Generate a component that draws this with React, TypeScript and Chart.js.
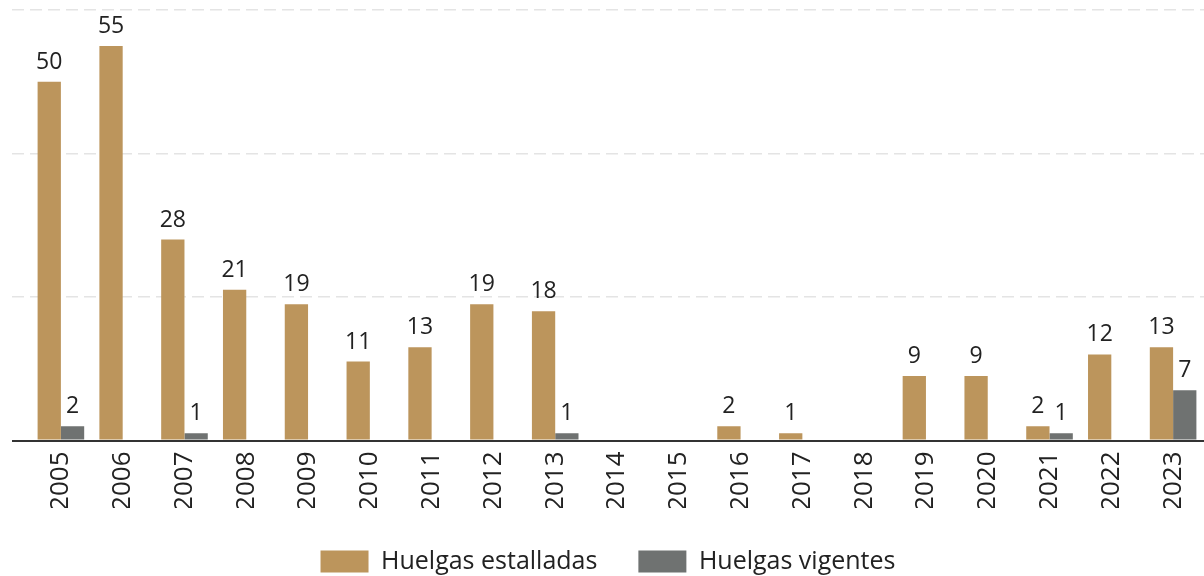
import React, { useEffect, useRef } from "react";
import { Chart, registerables } from "chart.js";

Chart.register(...registerables);

const years = [
  "2005", "2006", "2007", "2008", "2009", "2010", "2011", "2012", "2013", "2014",
  "2015", "2016", "2017", "2018", "2019", "2020", "2021", "2022", "2023",
];
const estalladas = [50, 55, 28, 21, 19, 11, 13, 19, 18, 0, 0, 2, 1, 0, 9, 9, 2, 12, 13];
const vigentes = [2, 0, 1, 0, 0, 0, 0, 0, 1, 0, 0, 0, 0, 0, 0, 0, 1, 0, 7];
const seriesNames = ["Huelgas estalladas", "Huelgas vigentes"];
const seriesColors = ["#BC955C", "#6F7271"];
const yMin = 0;
const yMax = 60;
const yStep = 20;

const FONT = "'Open Sans', 'Noto Sans', sans-serif";
const CANVAS_W = 1204;
const CANVAS_H = 584;
const LEGEND_FONT = 25;
const LEGEND_PAD = 41;
const LEGEND_H = LEGEND_FONT + LEGEND_PAD + 10;
const CHART_BOTTOM = 440.5;
const TOP_PAD = 10;

const valueLabels = {
  id: "valueLabels",
  afterDatasetsDraw(chart: any) {
    const ctx = chart.ctx;
    ctx.save();
    ctx.font = `23px ${FONT}`;
    ctx.fillStyle = "#222222";
    ctx.textAlign = "center";
    ctx.textBaseline = "alphabetic";
    chart.data.datasets.forEach((ds: any, i: number) => {
      const meta = chart.getDatasetMeta(i);
      meta.data.forEach((el: any, j: number) => {
        const v = ds.data[j];
        if (!v) return;
        ctx.fillText(String(v), el.x, el.y - 13);
      });
    });
    ctx.restore();
  },
};

const isZero = (c: any) => c && c.tick && c.tick.value === 0;

export default function App() {
  const ref = useRef<HTMLCanvasElement | null>(null);

  useEffect(() => {
    if (!ref.current) return;
    Chart.defaults.font.family = FONT;
    const chart = new Chart(ref.current, {
      type: "bar",
      data: {
        labels: years,
        datasets: [
          {
            label: seriesNames[0],
            data: estalladas,
            backgroundColor: seriesColors[0],
            categoryPercentage: 0.754,
            barPercentage: 1,
          },
          {
            label: seriesNames[1],
            data: vigentes,
            backgroundColor: seriesColors[1],
            categoryPercentage: 0.754,
            barPercentage: 1,
          },
        ],
      },
      options: {
        responsive: false,
        animation: false,
        devicePixelRatio: 1,
        layout: { padding: { top: TOP_PAD, left: 12, right: 0, bottom: 0 } },
        plugins: {
          tooltip: { enabled: false },
          legend: {
            position: "bottom",
            labels: {
              boxWidth: 48,
              boxHeight: 22,
              padding: LEGEND_PAD,
              color: "#222222",
              font: { size: LEGEND_FONT, family: FONT },
            },
          },
        },
        scales: {
          x: {
            grid: { display: false, drawTicks: false },
            border: { display: false },
            ticks: {
              autoSkip: false,
              minRotation: 90,
              maxRotation: 90,
              padding: 11,
              color: "#222222",
              font: { size: 26, family: FONT },
            },
            afterFit: (s: any) => {
              s.height = CANVAS_H - LEGEND_H - CHART_BOTTOM;
              s.paddingLeft = 0;
              s.paddingRight = 0;
            },
          },
          y: {
            min: yMin,
            max: yMax,
            ticks: { display: false, stepSize: yStep },
            grid: {
              color: (c: any) => (isZero(c) ? "#333333" : "#e4e4e4"),
              lineWidth: (c: any) => (isZero(c) ? 2 : 1.5),
              tickLength: 18,
              tickColor: (c: any) => (isZero(c) ? "#333333" : "#e4e4e4"),
              tickWidth: (c: any) => (isZero(c) ? 2 : 1.5),
              tickBorderDash: (c: any) => (isZero(c) ? [] : [12, 6]),
            } as any,
            border: {
              display: false,
              dash: (c: any) => (isZero(c) ? [] : [12, 6]),
            } as any,
          },
        },
      } as any,
      plugins: [valueLabels],
    });
    return () => chart.destroy();
  }, []);

  return (
    <div
      style={{
        position: "fixed",
        left: 0,
        top: 0,
        width: CANVAS_W,
        height: 576,
        overflow: "hidden",
        background: "#ffffff",
      }}
    >
      <canvas
        ref={ref}
        width={CANVAS_W}
        height={CANVAS_H}
        style={{ display: "block", width: CANVAS_W, height: CANVAS_H }}
      />
    </div>
  );
}
